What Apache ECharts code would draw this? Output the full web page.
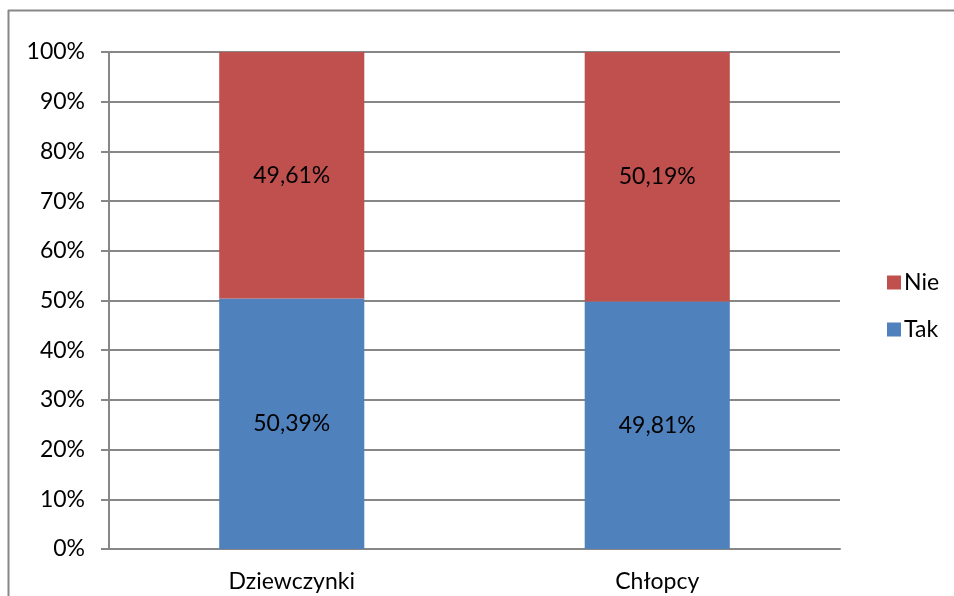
<!DOCTYPE html>
<html><head><meta charset="utf-8">
<script src="https://cdn.jsdelivr.net/npm/echarts@6/dist/echarts.min.js"></script>
<style>html,body{margin:0;padding:0;background:#fff;overflow:hidden}#c{width:954px;height:596px}</style>
</head><body><div id="c"></div>
<script>
const categories = ['Dziewczynki', 'Chłopcy'];
const takValues = [50.39, 49.81];
const nieValues = [49.61, 50.19];
const seriesNames = ['Tak', 'Nie'];

const fmt = v => v.toFixed(2).replace('.', ',') + '%';
const font = 'Lato, "Open Sans", sans-serif';
const fs = 23;
const chart = echarts.init(document.getElementById('c'));
const axisGrey = '#878787';
chart.setOption({
  animation: false,
  textStyle: { fontFamily: font },
  graphic: [
    { type: 'line', shape: { x1: 8.5, y1: 10, x2: 8.5, y2: 596 }, style: { stroke: axisGrey, lineWidth: 2 } },
    { type: 'line', shape: { x1: 8, y1: 10.5, x2: 954, y2: 10.5 }, style: { stroke: axisGrey, lineWidth: 2 } }
  ],
  grid: { left: 109, right: 114, top: 52, bottom: 47 },
  legend: {
    orient: 'vertical', left: 882, top: 266, itemWidth: 14, itemHeight: 14, itemGap: 24,
    icon: 'rect', data: ['Nie', 'Tak'],
    textStyle: { fontSize: fs, color: '#000', fontFamily: font, padding: [0, 0, 0, -2] }
  },
  xAxis: {
    type: 'category', data: categories,
    axisLine: { lineStyle: { color: axisGrey, width: 2 } },
    axisTick: { length: 8, lineStyle: { color: axisGrey, width: 2 } },
    axisLabel: { fontSize: fs, color: '#000', margin: 21, fontFamily: font }
  },
  yAxis: {
    type: 'value', min: 0, max: 100, interval: 10,
    axisLine: { show: true, lineStyle: { color: axisGrey, width: 2 } },
    axisTick: { show: true, length: 8, lineStyle: { color: axisGrey, width: 2 } },
    splitLine: { lineStyle: { color: axisGrey, width: 2 } },
    axisLabel: { fontSize: fs, color: '#000', margin: 24, formatter: '{value}%', fontFamily: font }
  },
  series: [
    { name: 'Tak', type: 'bar', stack: 's', data: takValues, barWidth: '39.7%',
      itemStyle: { color: '#4F81BD' },
      label: { show: true, position: 'inside', color: '#000', fontSize: fs, fontFamily: font, formatter: p => fmt(p.value) } },
    { name: 'Nie', type: 'bar', stack: 's', data: nieValues, barWidth: '39.7%',
      itemStyle: { color: '#C0504D' },
      label: { show: true, position: 'inside', color: '#000', fontSize: fs, fontFamily: font, formatter: p => fmt(p.value) } }
  ]
});
</script></body></html>
